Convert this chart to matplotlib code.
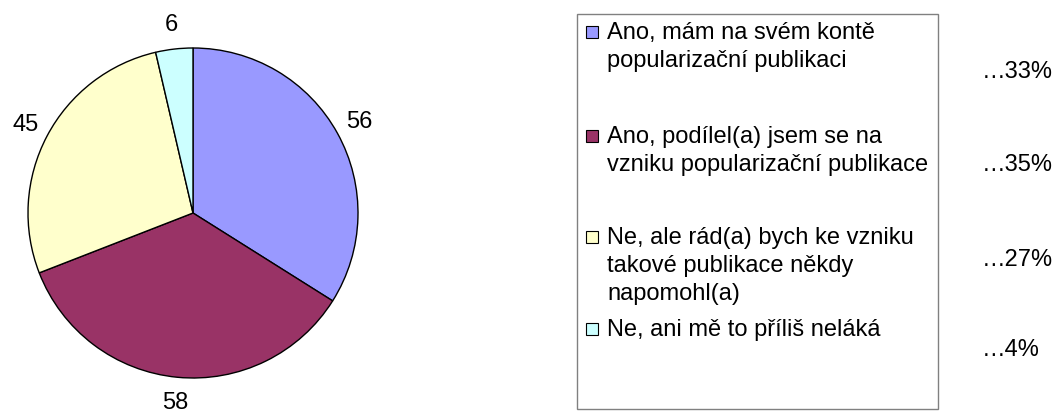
import matplotlib
matplotlib.use("Agg")
import matplotlib.pyplot as plt
from matplotlib.patches import Rectangle

plt.rcParams['font.family'] = ['Liberation Sans', 'DejaVu Sans']

values = [56, 58, 45, 6]
colors = ['#9999FF', '#993366', '#FFFFCC', '#CCFFFF']
legend_labels = [
    "Ano, mám na svém kontě\npopularizační publikaci",
    "Ano, podílel(a) jsem se na\nvzniku popularizační publikace",
    "Ne, ale rád(a) bych ke vzniku\ntakové publikace někdy\nnapomohl(a)",
    "Ne, ani mě to příliš neláká",
]
percent_labels = ["…33%", "…35%", "…27%", "…4%"]

W, H = 1064, 414
DPI = 100
fig = plt.figure(figsize=(W / DPI, H / DPI), dpi=DPI)

# Pie axes
cx, cy, R = 193, 214, 165
ax = fig.add_axes([(cx - R) / W, 1 - (cy + R) / H, 2 * R / W, 2 * R / H])
wedges, texts = ax.pie(values, colors=colors, startangle=90, counterclock=False,
                       labels=[str(v) for v in values], labeldistance=1.15,
                       wedgeprops=dict(edgecolor='black', linewidth=1.0),
                       textprops=dict(fontsize=17, color='black'))
for t in texts:
    t.set_horizontalalignment('center')
    t.set_verticalalignment('center')
ax.set_xlim(-1, 1)
ax.set_ylim(-1, 1)
ax.set_aspect('equal')
ax.axis('off')

# Overlay in pixel coordinates for legend
ov = fig.add_axes([0, 0, 1, 1])
ov.set_xlim(0, W)
ov.set_ylim(H, 0)
ov.axis('off')
ov.add_patch(Rectangle((577, 15), 361, 395, fill=False, edgecolor='#808080', linewidth=1.0))

line_h = 28
entry_tops = [33, 137, 238, 330]
pct_y = [72, 165, 260, 350]
for lab, col, ty, pct, py in zip(legend_labels, colors, entry_tops, percent_labels, pct_y):
    ov.add_patch(Rectangle((586, ty - 6), 12, 12, facecolor=col, edgecolor='black', linewidth=0.8))
    for i, line in enumerate(lab.split("\n")):
        ov.text(607, ty + i * line_h, line, fontsize=17, va='center', ha='left')
    ov.text(982, py, pct, fontsize=17, va='center', ha='left')

fig.savefig("out.png", dpi=DPI, facecolor='white')
